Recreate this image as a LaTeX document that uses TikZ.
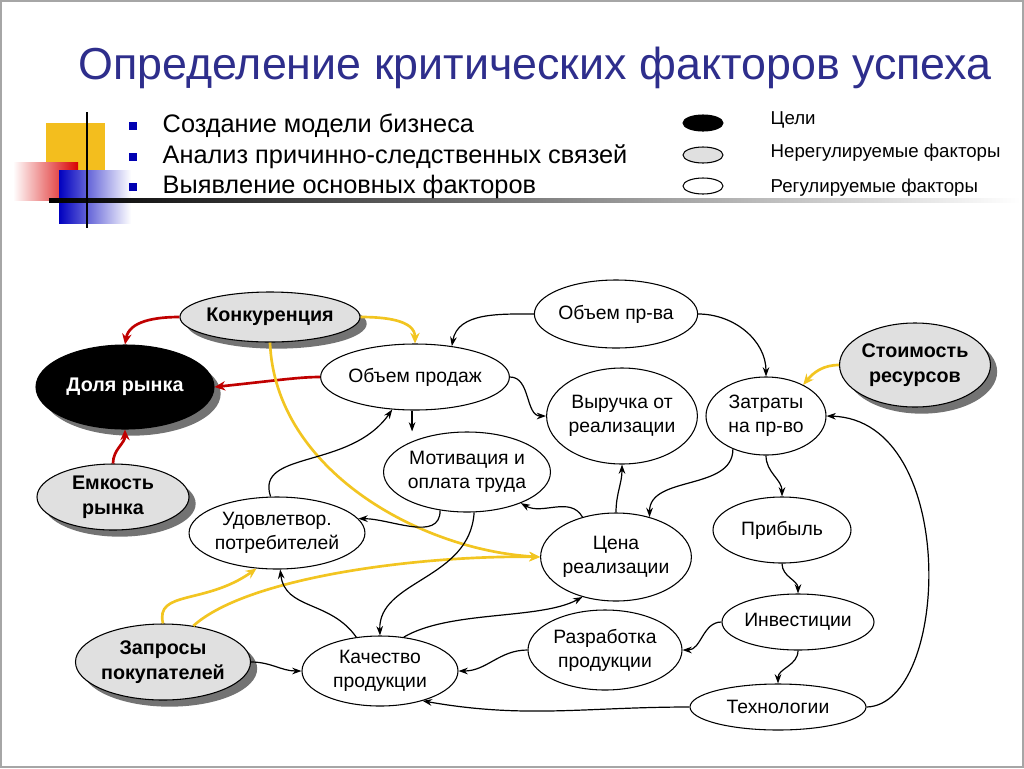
\documentclass[tikz,border=0pt]{standalone}
\usepackage{fontspec}
\setmainfont{Liberation Sans}
\usetikzlibrary{shapes.geometric,arrows.meta,shadows}
\definecolor{ttl}{HTML}{2E2E8C}
\definecolor{rd}{HTML}{C00000}
\definecolor{yl}{HTML}{F2C521}
\definecolor{gn}{HTML}{E0E0E0}
\begin{document}
\begin{tikzpicture}[x=0.75pt,y=-0.75pt,
 E/.style 2 args={ellipse,draw,thick,inner sep=0pt,minimum width=#1*0.75pt,minimum height=#2*0.75pt,align=center,font=\fontsize{14.5}{18}\selectfont,fill=white},
 G/.style={fill=gn,font=\fontsize{14.8}{19}\selectfont\bfseries,drop shadow={shadow xshift=5pt,shadow yshift=-5pt,fill=black!55,opacity=1}},
 bl/.style={-{Stealth[length=7pt,width=5pt]},line width=0.9pt},
 red/.style={-{Stealth[length=8pt,width=7pt]},line width=2pt,draw=rd},
 yel/.style={-{Stealth[length=8pt,width=7pt]},line width=2pt,draw=yl},
 leg/.style={ellipse,draw,thick,minimum width=30pt,minimum height=12pt,inner sep=0pt},
 bul/.style={anchor=west,font=\fontsize{19}{21}\selectfont},
 lt/.style={anchor=west,font=\fontsize{14}{16}\selectfont}]
\path[use as bounding box] (0,0) rectangle (1024,768);
\draw[gray!70,line width=1pt] (1,1) rectangle (1023,767);
% decoration
\fill[yl!90!orange] (46,123) rectangle (105,170);
\shade[left color=white,right color=red!85!black] (13,162) rectangle (78,200);
\shade[left color=blue!75!black,right color=white] (59,170) rectangle (131,223);
\shade[left color=black,right color=white] (49,198.5) rectangle (1020,202);
\draw[line width=1.5pt] (87,112) -- (87,228);
\node[font=\fontsize{33.6}{38}\selectfont,text=ttl] (title) at (535,68) {Определение критических факторов успеха};
\foreach \y/\t [count=\i] in {126/Создание модели бизнеса,157/Анализ причинно-следственных связей,187/Выявление основных факторов}{
  \fill[blue!70!black] (129,\y-4) rectangle (137,\y+4);
  \node[bul] (b\i) at (158,\y) {\t};}
\node[leg,fill=black] (l1) at (703,123) {};
\node[leg,fill=gn] (l2) at (703,155) {};
\node[leg,fill=white] (l3) at (703,186) {};
\node[lt] (t1) at (766,120) {Цели};
\node[lt] (t2) at (766,153) {Нерегулируемые факторы};
\node[lt] (t3) at (766,188) {Регулируемые факторы};
% nodes
\node[E={162}{50},G] (konk) at (270,317) {Конкуренция};
\node[E={178}{84},G,fill=black,text=white] (dolya) at (125,387) {Доля рынка};
\node[E={152}{66},G] (emk) at (113,497) {Емкость\\рынка};
\node[E={174}{76},G] (zapr) at (163,662) {Запросы\\покупателей};
\node[E={144}{84},G] (stoim) at (915,365) {Стоимость\\ресурсов};
\node[E={176}{66}] (obprod) at (415,377) {Объем продаж};
\node[E={160}{68}] (obpr) at (616,314) {Объем пр-ва};
\node[E={140}{96}] (vyr) at (622,416) {Выручка от\\реализации};
\node[E={120}{78}] (zatr) at (766,416) {Затраты\\на пр-во};
\node[E={162}{80}] (motiv) at (467,472) {Мотивация и\\оплата труда};
\node[E={162}{72}] (udovl) at (277,533) {Удовлетвор.\\потребителей};
\node[E={148}{88}] (cena) at (616,557) {Цена\\реализации};
\node[E={138}{66}] (prib) at (782,530) {Прибыль};
\node[E={152}{56}] (inv) at (798,622) {Инвестиции};
\node[E={154}{80}] (razr) at (605,650) {Разработка\\продукции};
\node[E={156}{70}] (kach) at (380,671) {Качество\\продукции};
\node[E={176}{46}] (tech) at (778,707) {Технологии};
% red
\draw[red] (konk.west) to[out=180,in=80] (dolya.north);
\draw[red] (obprod.west) .. controls (300,377) and (280,380) .. (dolya.east);
\draw[red] (emk.north) to[out=90,in=-90] (dolya.south);
% yellow
\draw[yel] (konk.east) to[out=0,in=90] (obprod.north);
\draw[yel] (konk.south) .. controls (275,470) and (420,550) .. (cena.west);
\draw[yel] (zapr.north) .. controls (155,590) and (205,605) .. (udovl.240);
\draw[yel] (zapr.50) .. controls (250,575) and (430,555) .. (cena.west);
\draw[yel] (stoim.west) to[out=180,in=50] (zatr.40);
% black
\draw[bl] (obpr.west) to[out=180,in=80] (obprod.40);
\draw[bl] (obpr.east) to[out=0,in=90] (zatr.north);
\draw[bl] (obprod.east) to[out=0,in=180] (vyr.west);
\draw[bl] (obprod.-95) -- (motiv.north -| obprod.-95);
\draw[bl] (udovl.100) .. controls (255,450) and (350,470) .. (obprod.235);
\draw[bl] (motiv.235) to[out=-90,in=0] (udovl.10);
\draw[bl] (motiv.-80) .. controls (470,580) and (378,580) .. (kach.north);
\draw[bl] (cena.north) to[out=90,in=-90] (vyr.south);
\draw[bl] (cena.130) to[out=120,in=-30] (motiv.-30);
\draw[bl] (zatr.225) to[out=-90,in=90] (cena.50);
\draw[bl] (zatr.-90) to[out=-90,in=90] (prib.north);
\draw[bl] (prib.south) to[out=-90,in=90] (inv.north);
\draw[bl] (inv.west) to[out=180,in=0] (razr.east);
\draw[bl] (inv.south) to[out=-90,in=90] (tech.north);
\draw[bl] (tech.east) .. controls (950,705) and (960,420) .. (zatr.east);
\draw[bl] (tech.west) to[out=180,in=-10] (kach.-35);
\draw[bl] (razr.west) to[out=180,in=0] (kach.east);
\draw[bl] (kach.55) .. controls (450,610) and (540,620) .. (cena.230);
\draw[bl] (kach.125) .. controls (330,600) and (285,610) .. (udovl.-85);
\draw[bl] (zapr.east) to[out=0,in=180] (kach.west);
\end{tikzpicture}
\end{document}
